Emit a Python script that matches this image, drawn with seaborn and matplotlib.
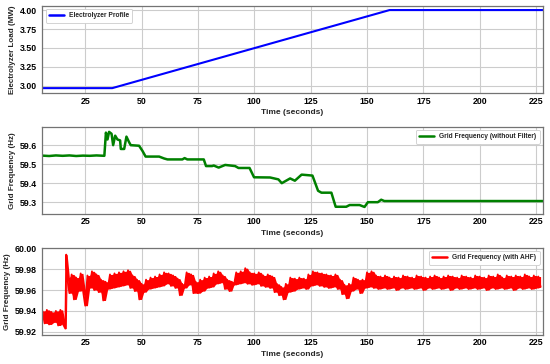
import numpy as np
import pandas as pd
import seaborn as sns
import matplotlib
matplotlib.use("Agg")
import matplotlib.pyplot as plt

# Electrolyzer load profile (MW)
load_time = [6, 37, 160, 228]
load_mw = [2.97, 2.97, 4.00, 4.00]

# Grid frequency without filter (Hz)
nofilt_time = [6, 9, 12, 15, 18, 21, 24, 27, 30, 33.5, 34.2, 34.9, 35.6, 36.7,
               37.4, 38.3, 39.3, 40.5, 40.8, 42.3, 43.3, 44.5, 45.2, 48.9, 50.4,
               51.8, 54.1, 57.8, 60, 61.5, 68.1, 69.1, 70.3, 77.6, 78.6, 81.3,
               82, 84.2, 87.1, 91.5, 93, 97.9, 99.9, 107, 110.7, 112.2, 115.9,
               118, 121, 125.8, 128.3, 129.8, 134.2, 136.1, 140.8, 142.3, 146.7,
               148.9, 150.4, 154.8, 156.3, 157.7, 228]
nofilt_hz = [59.545, 59.543, 59.546, 59.544, 59.546, 59.543, 59.545, 59.544,
             59.546, 59.544, 59.666, 59.630, 59.670, 59.660, 59.600, 59.650,
             59.630, 59.625, 59.580, 59.580, 59.645, 59.615, 59.600, 59.597,
             59.570, 59.540, 59.540, 59.540, 59.530, 59.525, 59.525, 59.532,
             59.525, 59.525, 59.490, 59.490, 59.493, 59.482, 59.496, 59.490,
             59.480, 59.480, 59.431, 59.430, 59.420, 59.400, 59.425, 59.413,
             59.445, 59.440, 59.360, 59.350, 59.350, 59.276, 59.276, 59.285,
             59.285, 59.275, 59.300, 59.300, 59.313, 59.306, 59.306]

# Grid frequency with AHF (Hz), about one sample per second (spike at ~16.5 s)
ahf_time = list(range(6, 16)) + [16.2, 16.6, 17] + list(range(18, 228))
ahf_hz = [
    59.940, 59.928, 59.941, 59.927, 59.939, 59.929, 59.940, 59.926, 59.941, 59.928,  # 6-15
    59.923, 59.994, 59.972,                                                          # 16.2-17
    59.957, 59.975, 59.951, 59.972, 59.959, 59.976, 59.960, 59.945,                  # 18-25
    59.974, 59.962, 59.978, 59.960, 59.975, 59.958, 59.970, 59.950, 59.968, 59.961,  # 26-35
    59.975, 59.962, 59.976, 59.963, 59.977, 59.964, 59.978, 59.965, 59.979, 59.962,  # 36-45
    59.974, 59.959, 59.970, 59.951, 59.966, 59.958, 59.970, 59.961, 59.972, 59.962,  # 46-55
    59.973, 59.963, 59.975, 59.964, 59.977, 59.966, 59.976, 59.964, 59.974, 59.962,  # 56-65
    59.971, 59.955, 59.966, 59.962, 59.977, 59.965, 59.975, 59.957, 59.968, 59.957,  # 66-75
    59.970, 59.959, 59.972, 59.962, 59.973, 59.963, 59.976, 59.966, 59.978, 59.967,  # 76-85
    59.974, 59.961, 59.970, 59.959, 59.968, 59.965, 59.977, 59.966, 59.978, 59.967,  # 86-95
    59.981, 59.966, 59.977, 59.965, 59.976, 59.966, 59.977, 59.964, 59.974, 59.963,  # 96-105
    59.975, 59.962, 59.973, 59.958, 59.966, 59.955, 59.963, 59.951, 59.966, 59.958,  # 106-115
    59.972, 59.959, 59.971, 59.961, 59.972, 59.962, 59.971, 59.961, 59.975, 59.964,  # 116-125
    59.978, 59.965, 59.977, 59.964, 59.976, 59.963, 59.975, 59.962, 59.974, 59.963,  # 126-135
    59.975, 59.961, 59.970, 59.956, 59.965, 59.952, 59.966, 59.959, 59.972, 59.961,  # 136-145
    59.970, 59.957, 59.970, 59.962, 59.977, 59.963, 59.978, 59.962, 59.974, 59.961,  # 146-155
    59.973, 59.962, 59.974, 59.961, 59.972, 59.962, 59.973, 59.960, 59.972, 59.962,  # 156-165
    59.974, 59.961, 59.973, 59.962, 59.972, 59.961, 59.974, 59.962, 59.973, 59.960,  # 166-175
    59.972, 59.962, 59.973, 59.961, 59.974, 59.962, 59.972, 59.961, 59.973, 59.962,  # 176-185
    59.974, 59.960, 59.973, 59.962, 59.972, 59.961, 59.974, 59.962, 59.973, 59.961,  # 186-195
    59.972, 59.962, 59.974, 59.961, 59.973, 59.962, 59.972, 59.960, 59.974, 59.962,  # 196-205
    59.973, 59.961, 59.975, 59.962, 59.972, 59.961, 59.974, 59.962, 59.973, 59.960,  # 206-215
    59.974, 59.962, 59.973, 59.961, 59.975, 59.962, 59.973, 59.961, 59.974, 59.962,  # 216-225
    59.973, 59.963,                                                                  # 226-227
]

x_ticks = [25, 50, 75, 100, 125, 150, 175, 200, 225]

sns.set_theme(style="whitegrid")
plt.rcParams["font.family"] = ["Liberation Sans", "DejaVu Sans"]
plt.rcParams["font.weight"] = "bold"
plt.rcParams["axes.labelweight"] = "bold"
plt.rcParams["axes.edgecolor"] = "0.45"
plt.rcParams["grid.color"] = "0.8"

fig, axes = plt.subplots(3, 1, figsize=(5.5, 3.64), dpi=100)
fig.subplots_adjust(left=0.077, right=0.987, top=0.984, bottom=0.080,
                    hspace=0.386)

panels = [
    (pd.DataFrame({"t": load_time, "v": load_mw}), "blue",
     "Electrolyzer Profile", "Electrolyzer Load (MW)", (2.905, 4.056),
     [3.00, 3.25, 3.50, 3.75, 4.00], "%.2f", "upper left", 1.5),
    (pd.DataFrame({"t": nofilt_time, "v": nofilt_hz}), "green",
     "Grid Frequency (without Filter)", "Grid Frequency (Hz)", (59.238, 59.697),
     [59.3, 59.4, 59.5, 59.6], "%.1f", "upper right", 1.8),
    (pd.DataFrame({"t": ahf_time, "v": ahf_hz}), "red",
     "Grid Frequency (with AHF)", "Grid Frequency (Hz)", (59.917, 60.0007),
     [59.92, 59.94, 59.96, 59.98, 60.00], "%.2f", "upper right", 1.3),
]

for ax, (df, color, label, ylabel, ylim, yticks, fmt, loc, lw) in zip(axes, panels):
    sns.lineplot(data=df, x="t", y="v", color=color, label=label, lw=lw,
                 ax=ax, sort=False, estimator=None)
    if color == "red":
        # the AHF signal is a dense noisy band: fill between consecutive samples
        env_hi = df["v"].rolling(2, min_periods=1).max()
        env_lo = df["v"].rolling(2, min_periods=1).min()
        ax.fill_between(df["t"], env_lo, env_hi, color=color, lw=0)
    ax.set_xlim(6, 228)
    ax.set_ylim(*ylim)
    ax.set_xticks(x_ticks)
    ax.set_yticks(yticks)
    ax.yaxis.set_major_formatter(matplotlib.ticker.FormatStrFormatter(fmt))
    ax.tick_params(labelsize=6.3, length=0, colors="black")
    ax.tick_params(axis="x", pad=2.5)
    ax.tick_params(axis="y", pad=4)
    for lab in ax.get_xticklabels() + ax.get_yticklabels():
        lab.set_fontweight("bold")
    ax.set_xlabel("Time (seconds)", fontsize=6, fontweight="bold", labelpad=2.5)
    ax.set_ylabel(ylabel, fontsize=5.8, fontweight="bold", labelpad=2.5)
    for sp in ax.spines.values():
        sp.set_linewidth(0.9)
    ax.grid(True, lw=0.8)
    leg = ax.legend(loc=loc, fontsize=4.8, handlelength=2.2, frameon=True,
                    borderpad=0.5, framealpha=1)
    leg.get_frame().set_edgecolor("0.8")
    leg.get_frame().set_linewidth(0.6)
    for h in leg.legend_handles:
        h.set_linewidth(1.8)
    for txt in leg.get_texts():
        txt.set_fontweight("bold")

fig.savefig("out.png", dpi=100)
